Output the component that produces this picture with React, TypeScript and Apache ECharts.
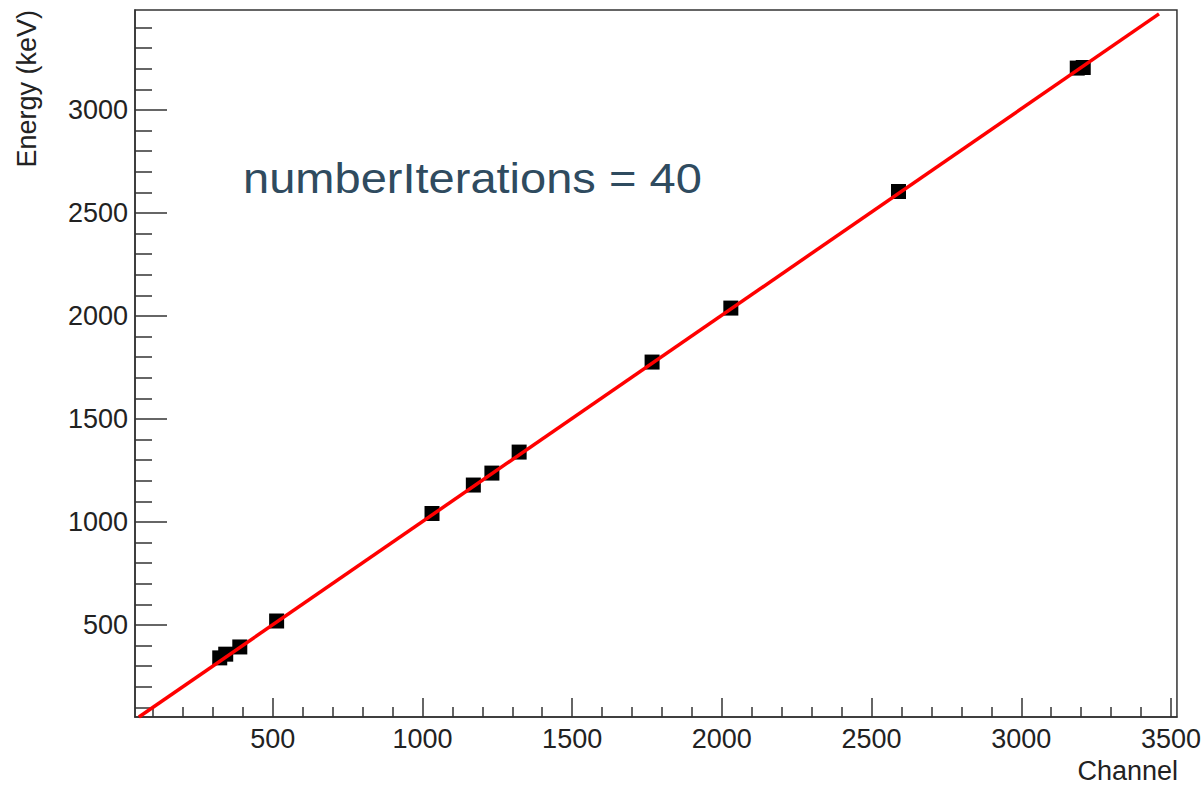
import React, { useEffect, useRef } from "react";
import * as echarts from "echarts";

// Calibration points (Channel, Energy keV)
const pointChannel = [323, 343, 390, 513, 1032, 1170, 1232, 1323, 1767, 2030, 2590, 3187, 3207];
const pointEnergy = [340, 358, 393, 519, 1041, 1179, 1237, 1339, 1776, 2038, 2604, 3203, 3206];

// Fitted calibration line endpoints
const fitChannel = [53, 3460];
const fitEnergy = [53, 3466];

// Axis ranges and ticks
const xRange = [40, 3520];
const yRange = [53, 3485];
const xMajorTicks = [500, 1000, 1500, 2000, 2500, 3000, 3500];
const xMinorTicks = [100, 200, 300, 400, 600, 700, 800, 900, 1100, 1200, 1300, 1400, 1600, 1700, 1800, 1900, 2100, 2200, 2300, 2400, 2600, 2700, 2800, 2900, 3100, 3200, 3300, 3400];
const yMajorTicks = [500, 1000, 1500, 2000, 2500, 3000];
const yMinorTicks = [100, 200, 300, 400, 600, 700, 800, 900, 1100, 1200, 1300, 1400, 1600, 1700, 1800, 1900, 2100, 2200, 2300, 2400, 2600, 2700, 2800, 2900, 3100, 3200, 3300, 3400];

const xTitle = "Channel";
const yTitle = "Energy (keV)";
const annotation = "numberIterations = 40";

const FONT = "'Liberation Sans', Arial, Helvetica, sans-serif";
const AXIS_COLOR = "#333";
const LABEL_COLOR = "#222";

const plain = (v: number) => String(Math.round(v));

export default function App() {
  const ref = useRef<HTMLDivElement>(null);

  useEffect(() => {
    if (!ref.current) return;
    const chart = echarts.init(ref.current, null, { renderer: "svg" });

    const lineData = fitChannel.map((c, i) => [c, fitEnergy[i]]);
    const pts = pointChannel.map((c, i) => [c, pointEnergy[i]]);

    const option: any = {
      animation: false,
      backgroundColor: "#fff",
      grid: {
        left: 135,
        right: 25,
        top: 10,
        bottom: 74,
        show: true,
        borderColor: AXIS_COLOR,
        borderWidth: 1.5,
        backgroundColor: "transparent",
      },
      xAxis: [
        {
          type: "value",
          min: xRange[0],
          max: xRange[1],
          position: "bottom",
          axisLine: { show: true, lineStyle: { color: AXIS_COLOR, width: 1.5 } },
          axisTick: {
            show: true,
            inside: true,
            length: 19,
            customValues: xMajorTicks,
            lineStyle: { color: AXIS_COLOR, width: 1.5 },
          },
          axisLabel: {
            show: true,
            customValues: xMajorTicks,
            formatter: plain,
            margin: 8,
            color: LABEL_COLOR,
            fontSize: 27,
            fontFamily: FONT,
          },
          splitLine: { show: false },
        },
        {
          type: "value",
          min: xRange[0],
          max: xRange[1],
          position: "bottom",
          axisLine: { show: false },
          axisTick: {
            show: true,
            inside: true,
            length: 10,
            customValues: xMinorTicks,
            lineStyle: { color: AXIS_COLOR, width: 1.5 },
          },
          axisLabel: { show: false },
          splitLine: { show: false },
        },
      ],
      yAxis: [
        {
          type: "value",
          min: yRange[0],
          max: yRange[1],
          position: "left",
          axisLine: { show: true, lineStyle: { color: AXIS_COLOR, width: 1.5 } },
          axisTick: {
            show: true,
            inside: true,
            length: 32,
            customValues: yMajorTicks,
            lineStyle: { color: AXIS_COLOR, width: 1.5 },
          },
          axisLabel: {
            show: true,
            customValues: yMajorTicks,
            formatter: plain,
            margin: 7,
            color: LABEL_COLOR,
            fontSize: 27,
            fontFamily: FONT,
          },
          splitLine: { show: false },
        },
        {
          type: "value",
          min: yRange[0],
          max: yRange[1],
          position: "left",
          axisLine: { show: false },
          axisTick: {
            show: true,
            inside: true,
            length: 17,
            customValues: yMinorTicks,
            lineStyle: { color: AXIS_COLOR, width: 1.5 },
          },
          axisLabel: { show: false },
          splitLine: { show: false },
        },
      ],
      series: [
        {
          type: "scatter",
          xAxisIndex: 0,
          yAxisIndex: 0,
          data: pts,
          symbol: "rect",
          symbolSize: 15,
          itemStyle: { color: "#000", opacity: 1 },
          z: 2,
        },
        {
          type: "line",
          xAxisIndex: 0,
          yAxisIndex: 0,
          data: lineData,
          showSymbol: false,
          symbol: "none",
          lineStyle: { color: "#ff0000", width: 3.5 },
          z: 3,
        },
      ],
      graphic: [
        {
          type: "text",
          right: 26,
          top: 757,
          style: {
            text: xTitle,
            fill: LABEL_COLOR,
            font: `27px ${FONT}`,
          },
        },
        {
          type: "text",
          x: 27,
          y: 10,
          rotation: Math.PI / 2,
          style: {
            text: yTitle,
            fill: LABEL_COLOR,
            font: `27px ${FONT}`,
            align: "right",
            verticalAlign: "middle",
          },
        },
        {
          type: "text",
          x: 243,
          y: 178,
          scaleX: 1.12,
          style: {
            text: annotation,
            fill: "#2f4b5f",
            font: `42px ${FONT}`,
            align: "left",
            verticalAlign: "middle",
          },
        },
      ],
    };

    chart.setOption(option);
    return () => chart.dispose();
  }, []);

  return (
    <div
      ref={ref}
      style={{ position: "absolute", left: 0, top: 0, width: 1204, height: 791 }}
    />
  );
}
